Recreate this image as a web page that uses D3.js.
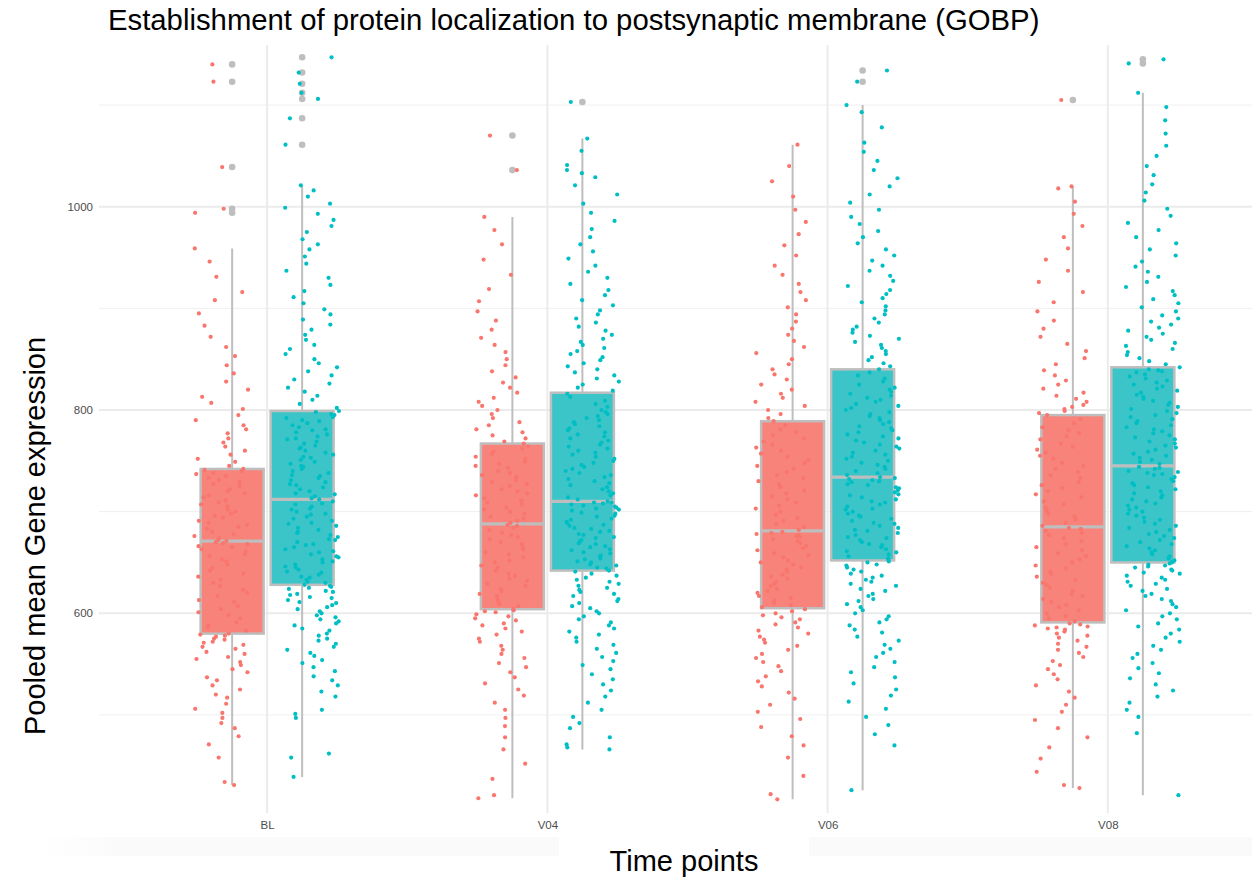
<!DOCTYPE html>
<html>
<head>
<meta charset="utf-8">
<script src="https://cdn.jsdelivr.net/npm/d3@7"></script>
<style>
  body { margin: 0; background: #fff; }
  text { font-family: "Liberation Sans", Arial, sans-serif; }
</style>
</head>
<body>
<div id="viz"></div>
<script>
var timePoints = ["BL", "V04", "V06", "V08"];
var majorTicks = [600, 800, 1000];
var minorTicks = [500, 700, 900, 1100];

// box statistics, one value per time point
var redWhiskerLow = [431, 418, 417, 428];
var redQ1 = [580, 604, 605, 591];
var redMedian = [671, 688, 681, 685];
var redQ3 = [742, 767, 789, 795];
var redWhiskerHigh = [959, 990, 1061, 1020];

var tealWhiskerLow = [439, 466, 426, 421];
var tealQ1 = [628, 642, 652, 650];
var tealMedian = [712, 710, 734, 745];
var tealQ3 = [799, 817, 840, 842];
var tealWhiskerHigh = [1021, 1067, 1100, 1112];

// jittered points (values only)
var redBL = [431, 434, 458, 471, 479, 487, 492, 497, 502, 506, 511, 517, 520, 525, 529, 534, 537, 542, 545, 549, 552, 555, 557, 560, 562, 565, 567, 569, 571, 572, 574, 575, 577, 578, 579,
  580, 583, 586, 588, 591, 595, 598, 601, 604, 607, 611, 613, 617, 620, 623, 627, 630, 633, 636, 639, 642, 645, 648, 651, 653, 656, 658, 661, 663, 665, 666, 668, 669, 670, 671,
  672, 674, 676, 678, 680, 683, 685, 687, 689, 691, 694, 696, 698, 700, 702, 705, 707, 709, 711, 714, 716, 718, 720, 722, 725, 727, 729, 731, 733, 735, 737, 738, 740, 741, 742,
  745, 749, 752, 756, 760, 764, 768, 772, 777, 781, 785, 790, 795, 801, 807, 813, 820, 828, 836, 844, 853, 862, 872, 883, 895, 908, 916, 931, 946, 959,
  994, 998, 1039, 1123, 1140];
var tealBL = [439, 458, 462, 497, 501, 505, 518, 523, 529, 534, 538, 543, 547, 551, 554, 558, 561, 564, 567, 570, 573, 575, 578, 580, 583, 585, 588, 590, 592, 594, 596, 598, 600, 602, 604, 606, 608, 610, 611, 613, 615, 616, 618, 619, 621, 622, 624, 625, 626, 627,
  628, 630, 631, 633, 635, 636, 638, 640, 641, 643, 645, 646, 648, 650, 651, 653, 655, 656, 658, 660, 661, 663, 665, 667, 668, 670, 672, 673, 675, 677, 679, 680, 682, 684, 686, 688, 689, 691, 693, 695, 697, 698, 700, 702, 703, 705, 707, 708, 710, 712,
  713, 715, 717, 718, 720, 722, 724, 726, 727, 729, 731, 733, 735, 736, 738, 740, 742, 744, 745, 747, 749, 751, 753, 754, 756, 758, 760, 762, 763, 765, 767, 769, 771, 772, 774, 776, 778, 780, 781, 783, 785, 787, 789, 790, 792, 793, 795, 796, 798, 799,
  802, 806, 810, 814, 818, 822, 826, 830, 834, 838, 842, 846, 850, 855, 860, 864, 869, 874, 879, 884, 889, 894, 899, 905, 911, 917, 923, 930, 937, 944, 951, 958, 963, 968, 975, 981, 987, 993, 999, 1003, 1010, 1016, 1021,
  1061, 1087, 1106, 1112, 1121, 1132, 1147];
var redV04 = [418, 421, 437, 452, 466, 478, 489, 497, 505, 512, 519, 525, 531, 537, 542, 547, 551, 556, 560, 564, 568, 572, 575, 579, 582, 585, 588, 590, 593, 595, 597, 599, 601, 602, 603,
  604, 607, 609, 612, 614, 617, 619, 622, 624, 627, 629, 632, 634, 637, 639, 642, 645, 647, 650, 652, 655, 658, 660, 663, 665, 668, 670, 673, 675, 677, 679, 682, 684, 686, 687,
  689, 691, 693, 695, 698, 700, 702, 704, 707, 709, 711, 713, 716, 718, 720, 722, 725, 727, 729, 731, 734, 736, 738, 740, 743, 745, 747, 749, 752, 754, 757, 759, 762, 764, 767,
  769, 772, 775, 778, 781, 785, 788, 792, 796, 800, 804, 808, 812, 817, 822, 827, 832, 838, 844, 850, 857, 864, 871, 879, 888, 897, 907, 919, 933, 948, 963, 977, 990,
  1036, 1070];
var tealV04 = [466, 468, 471, 478, 487, 492, 498, 505, 512, 518, 524, 530, 535, 540, 545, 549, 553, 557, 561, 565, 569, 572, 576, 579, 582, 585, 588, 591, 594, 597, 600, 602, 605, 607, 610, 612, 614, 617, 619, 621, 623, 625, 627, 629, 631, 633, 635, 637, 639, 641,
  642, 644, 645, 647, 648, 650, 651, 653, 654, 656, 657, 659, 660, 662, 663, 665, 666, 668, 669, 671, 672, 674, 675, 677, 678, 680, 681, 683, 684, 686, 687, 689, 690, 692, 693, 695, 696, 698, 699, 701, 702, 703, 704, 705, 706, 707, 708, 709, 709, 710,
  712, 714, 716, 718, 720, 722, 724, 726, 728, 730, 732, 734, 736, 738, 740, 742, 744, 746, 748, 750, 752, 754, 756, 758, 760, 762, 764, 766, 768, 770, 772, 774, 776, 778, 780, 782, 784, 786, 788, 790, 792, 794, 796, 798, 800, 803, 806, 809, 813, 816,
  819, 822, 825, 828, 831, 834, 837, 840, 843, 846, 849, 852, 855, 858, 861, 864, 867, 870, 874, 878, 882, 886, 890, 894, 898, 903, 908, 913, 918, 924, 930, 936, 942, 949, 956, 963, 970, 978, 986, 994, 1003, 1012, 1021, 1029, 1033, 1036, 1041, 1055, 1067,
  1103];
var redV06 = [417, 422, 440, 458, 470, 479, 488, 496, 503, 510, 516, 522, 528, 533, 538, 543, 548, 552, 556, 560, 564, 568, 571, 574, 577, 580, 583, 586, 589, 591, 594, 596, 598, 600, 602, 604,
  606, 608, 610, 613, 615, 617, 620, 622, 624, 627, 629, 631, 634, 636, 638, 641, 643, 645, 648, 650, 652, 655, 657, 659, 662, 664, 666, 669, 671, 673, 675, 676, 677, 678, 679, 680,
  682, 685, 688, 691, 694, 697, 700, 703, 706, 709, 712, 715, 718, 721, 724, 727, 730, 733, 736, 739, 742, 745, 748, 751, 754, 757, 760, 763, 766, 769, 772, 775, 778, 781, 785, 789,
  792, 796, 800, 804, 808, 812, 816, 820, 825, 830, 835, 840, 845, 850, 856, 862, 868, 874, 880, 887, 894, 901, 908, 916, 924, 933, 942, 952, 962, 973, 985, 997, 1010, 1025, 1040, 1061];
var tealV06 = [426, 470, 481, 490, 498, 506, 513, 519, 525, 531, 537, 542, 547, 552, 557, 561, 565, 569, 573, 577, 581, 584, 588, 591, 594, 597, 600, 603, 606, 609, 612, 614, 617, 619, 622, 624, 627, 629, 631, 633, 635, 637, 639, 641, 643, 645, 647, 648, 650, 651,
  653, 654, 656, 658, 660, 661, 663, 665, 667, 668, 670, 672, 674, 675, 677, 679, 681, 682, 684, 686, 688, 689, 691, 693, 695, 696, 698, 700, 702, 703, 705, 707, 709, 710, 712, 714, 716, 717, 719, 721, 723, 724, 726, 727, 729, 730, 731, 732, 733, 734,
  736, 738, 740, 742, 744, 746, 748, 750, 752, 754, 756, 758, 760, 762, 764, 766, 768, 770, 772, 774, 776, 778, 780, 782, 784, 786, 788, 790, 792, 794, 796, 798, 800, 802, 804, 806, 808, 810, 812, 814, 816, 818, 820, 822, 825, 828, 831, 834, 837, 840,
  843, 846, 849, 852, 855, 858, 861, 864, 867, 870, 873, 876, 879, 882, 886, 890, 894, 898, 902, 906, 910, 914, 918, 922, 927, 932, 937, 942, 947, 952, 958, 964, 970, 976, 983, 990, 997, 1004, 1012, 1020, 1028, 1036, 1045, 1054, 1063, 1078, 1093, 1100,
  1123, 1134];
var redV08 = [428, 431, 444, 457, 468, 478, 487, 495, 503, 510, 517, 523, 529, 535, 540, 545, 549, 553, 557, 561, 564, 567, 570, 573, 576, 578, 580, 582, 584, 585, 586, 587, 588, 589, 590,
  592, 595, 597, 600, 603, 606, 608, 611, 614, 617, 619, 622, 625, 628, 630, 633, 636, 639, 641, 644, 647, 650, 653, 656, 659, 662, 665, 668, 671, 674, 677, 679, 681, 683, 684,
  686, 689, 692, 695, 698, 701, 704, 707, 710, 714, 717, 720, 723, 726, 729, 733, 736, 739, 742, 745, 748, 752, 755, 758, 761, 764, 767, 771, 774, 777, 780, 783, 787, 791, 795,
  797, 799, 801, 803, 805, 808, 811, 814, 817, 821, 825, 829, 834, 839, 845, 851, 858, 865, 872, 880, 888, 897, 906, 916, 926, 937, 948, 959, 970, 981, 993, 1005, 1018, 1020,
  1105];
var tealV08 = [421, 482, 498, 505, 512, 518, 524, 530, 536, 541, 546, 551, 556, 560, 564, 568, 572, 576, 580, 584, 587, 590, 594, 597, 600, 603, 606, 609, 612, 614, 617, 619, 622, 624, 627, 629, 631, 633, 635, 637, 639, 640, 642, 643, 645, 646, 647, 648, 649, 650,
  652, 654, 656, 658, 660, 662, 664, 666, 668, 670, 672, 674, 676, 678, 680, 682, 684, 686, 688, 690, 692, 694, 696, 698, 700, 702, 704, 706, 708, 710, 712, 714, 716, 718, 720, 722, 724, 726, 728, 730, 732, 734, 736, 737, 738, 739, 740, 742, 743, 744,
  747, 749, 751, 753, 755, 757, 759, 761, 763, 765, 767, 769, 771, 773, 775, 777, 779, 781, 783, 785, 787, 789, 791, 793, 795, 797, 799, 801, 803, 805, 807, 809, 811, 813, 815, 817, 819, 821, 823, 825, 827, 829, 831, 833, 835, 837, 838, 839, 840, 842,
  845, 848, 851, 854, 857, 860, 863, 866, 869, 872, 875, 878, 881, 884, 887, 890, 893, 897, 901, 905, 909, 913, 917, 921, 926, 931, 936, 941, 946, 952, 958, 964, 970, 977, 984, 991, 998, 1006, 1014, 1022, 1031, 1040, 1050, 1060, 1072, 1085, 1098, 1112,
  1141, 1145];

var redPoints = [redBL, redV04, redV06, redV08];
var tealPoints = [tealBL, tealV04, tealV06, tealV08];

var W = 1252, H = 878;
var panel = { left: 99, right: 1276, top: 45, bottom: 813 };

var svg = d3.select('#viz').append('svg')
  .attr('width', W)
  .attr('height', H);
svg.append('rect').attr('width', W).attr('height', H).attr('fill', '#fff');

var x = d3.scalePoint()
  .domain(timePoints)
  .range([panel.left, panel.right])
  .padding(0.6);
var y = d3.scaleLinear()
  .domain([403.5, 1159.1])
  .range([panel.bottom, panel.top]);

// faint strip at the bottom
var defs = svg.append('defs');
var grad = defs.append('linearGradient').attr('id', 'strip')
  .attr('x1', '0').attr('x2', '1').attr('y1', '0').attr('y2', '0');
grad.append('stop').attr('offset', '0').attr('stop-color', '#fff');
grad.append('stop').attr('offset', '0.07').attr('stop-color', '#fafafa');
grad.append('stop').attr('offset', '1').attr('stop-color', '#fafafa');
svg.append('rect').attr('x', 40).attr('y', 837).attr('width', W - 40).attr('height', 19)
  .attr('fill', 'url(#strip)');
svg.append('rect').attr('x', 559).attr('y', 837).attr('width', 250).attr('height', 19)
  .attr('fill', '#fff');

// grid
var grid = svg.append('g');
grid.selectAll('.minor').data(minorTicks).enter().append('line')
  .attr('x1', panel.left).attr('x2', panel.right)
  .attr('y1', function (d) { return y(d); })
  .attr('y2', function (d) { return y(d); })
  .attr('stroke', '#efefef').attr('stroke-width', 1);
grid.selectAll('.major').data(majorTicks).enter().append('line')
  .attr('x1', panel.left).attr('x2', panel.right)
  .attr('y1', function (d) { return y(d); })
  .attr('y2', function (d) { return y(d); })
  .attr('stroke', '#ebebeb').attr('stroke-width', 2);
grid.selectAll('.vx').data(timePoints).enter().append('line')
  .attr('x1', function (d) { return x(d); })
  .attr('x2', function (d) { return x(d); })
  .attr('y1', panel.top).attr('y2', panel.bottom)
  .attr('stroke', '#ebebeb').attr('stroke-width', 2);

// axes text
var yAxis = d3.axisLeft(y).tickValues(majorTicks).tickSize(0).tickPadding(6).tickFormat(d3.format('d'));
svg.append('g').attr('transform', 'translate(' + panel.left + ',0)').call(yAxis)
  .call(function (g) { g.select('.domain').remove(); })
  .selectAll('text').attr('font-size', '11.5px').attr('fill', '#4d4d4d')
  .attr('font-family', '"Liberation Sans", Arial, sans-serif');
var xAxis = d3.axisBottom(x).tickSize(0).tickPadding(8);
svg.append('g').attr('transform', 'translate(0,' + panel.bottom + ')').call(xAxis)
  .call(function (g) { g.select('.domain').remove(); })
  .selectAll('text').attr('font-size', '11.5px').attr('fill', '#4d4d4d')
  .attr('font-family', '"Liberation Sans", Arial, sans-serif');

var groups = [
  { color: '#F8766D', fill: '#F8837A', boxOff: -35, jitOff: -46, pts: redPoints,
    lo: redWhiskerLow, q1: redQ1, med: redMedian, q3: redQ3, hi: redWhiskerHigh },
  { color: '#00BFC4', fill: '#3CC5C8', boxOff: 35, jitOff: 45, pts: tealPoints,
    lo: tealWhiskerLow, q1: tealQ1, med: tealMedian, q3: tealQ3, hi: tealWhiskerHigh }
];
var boxW = 63;
var grey = '#bebebe';

// boxes
groups.forEach(function (gr) {
  var g = svg.append('g');
  timePoints.forEach(function (tp, i) {
    var cx = x(tp) + gr.boxOff;
    g.append('line').attr('x1', cx).attr('x2', cx)
      .attr('y1', y(gr.hi[i])).attr('y2', y(gr.lo[i]))
      .attr('stroke', grey).attr('stroke-width', 2);
    g.append('rect')
      .attr('x', cx - boxW / 2).attr('width', boxW)
      .attr('y', y(gr.q3[i])).attr('height', y(gr.q1[i]) - y(gr.q3[i]))
      .attr('fill', gr.fill).attr('stroke', grey).attr('stroke-width', 2.5);
    g.append('line').attr('x1', cx - boxW / 2).attr('x2', cx + boxW / 2)
      .attr('y1', y(gr.med[i])).attr('y2', y(gr.med[i]))
      .attr('stroke', grey).attr('stroke-width', 3.2);
    var outl = gr.pts[i].filter(function (v) { return v > gr.hi[i] || v < gr.lo[i]; });
    g.selectAll(null).data(outl).enter().append('circle')
      .attr('cx', cx).attr('cy', function (d) { return y(d); })
      .attr('r', 3.3).attr('fill', grey);
  });
});

// deterministic jitter
function jit(i, k) {
  var h = Math.sin((i + 1) * 12.9898 + k * 78.233) * 43758.5453;
  return h - Math.floor(h);
}

groups.forEach(function (gr, gi) {
  var g = svg.append('g');
  timePoints.forEach(function (tp, i) {
    var cx = x(tp) + gr.jitOff;
    g.selectAll(null).data(gr.pts[i]).enter().append('circle')
      .attr('cx', function (d, j) { return cx + (jit(j, gi * 4 + i + 1) * 2 - 1) * 27; })
      .attr('cy', function (d) { return y(d); })
      .attr('r', 2.1)
      .attr('fill', gr.color);
  });
});

// titles
svg.append('text').attr('x', 108).attr('y', 30)
  .attr('font-size', '29.3px').attr('fill', '#000')
  .text('Establishment of protein localization to postsynaptic membrane (GOBP)');
svg.append('text').attr('x', 684).attr('y', 871)
  .attr('text-anchor', 'middle').attr('font-size', '29px').attr('fill', '#000')
  .text('Time points');
svg.append('text').attr('transform', 'translate(45,536) rotate(-90)')
  .attr('text-anchor', 'middle').attr('font-size', '29px').attr('fill', '#000')
  .text('Pooled mean Gene expression');
</script>
</body>
</html>
